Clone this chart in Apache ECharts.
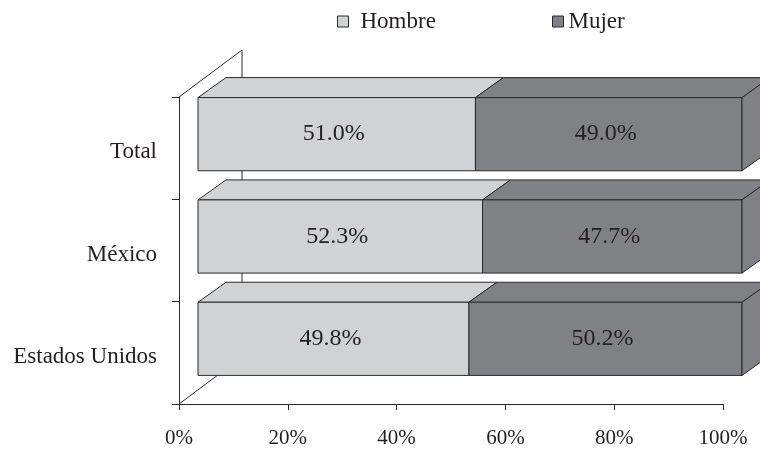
<!DOCTYPE html>
<html>
<head>
<meta charset="utf-8">
<script src="https://cdn.jsdelivr.net/npm/echarts@6/dist/echarts.min.js"></script>
<style>
  html, body { margin: 0; padding: 0; background: #ffffff; }
  #chart { width: 760px; height: 449px; }
</style>
</head>
<body>
<div id="chart"></div>
<script>
// Población por sexo (%)
const categories = ['Total', 'México', 'Estados Unidos'];
const hombre = [51.0, 52.3, 49.8];
const mujer = [49.0, 47.7, 50.2];
const xTicks = [0, 20, 40, 60, 80, 100];

const FONT = '"Liberation Serif", "DejaVu Serif", serif';
const TEXT = '#231f20';
const EDGE = '#2a2a2a';
const COLOR_H = '#d1d2d4';
const COLOR_M = '#808184';

// Oblique projection of the depth direction, in pixels
const WALL = [63, -47];  // full depth of the plot box
const NEAR = [19, -14];  // front face of the bars
const FAR = [47, -34];   // back face of the bars
const BAR_RATIO = 0.715;

// [start, end, categoryIndex, value]
const hombreData = categories.map((c, i) => [0, hombre[i], i, hombre[i]]);
const mujerData = categories.map((c, i) => [hombre[i], hombre[i] + mujer[i], i, mujer[i]]);

function makeBox(fill, withSide) {
  return function (params, api) {
    const cat = api.value(2);
    const p0 = api.coord([api.value(0), cat]);
    const p1 = api.coord([api.value(1), cat]);
    const h = api.size([0, 1])[1] * BAR_RATIO;
    const xl = p0[0] + NEAR[0];
    const xr = p1[0] + NEAR[0];
    const yt = p0[1] - h / 2 + NEAR[1];
    const yb = p0[1] + h / 2 + NEAR[1];
    const dx = FAR[0] - NEAR[0];
    const dy = FAR[1] - NEAR[1];
    const line = { fill: fill, stroke: EDGE, lineWidth: 1 };
    const children = [
      { type: 'polygon', shape: { points: [[xl, yt], [xr, yt], [xr + dx, yt + dy], [xl + dx, yt + dy]] }, style: line },
      { type: 'rect', shape: { x: xl, y: yt, width: xr - xl, height: yb - yt }, style: line }
    ];
    if (withSide) {
      children.push({ type: 'polygon', shape: { points: [[xr, yt], [xr + dx, yt + dy], [xr + dx, yb + dy], [xr, yb]] }, style: line });
    }
    children.push({
      type: 'text',
      style: {
        text: api.value(3).toFixed(1) + '%',
        x: (xl + xr) / 2 - 3, y: (yt + yb) / 2,
        align: 'center', verticalAlign: 'middle',
        font: '24px ' + FONT, fill: TEXT
      }
    });
    return { type: 'group', children: children };
  };
}

function renderWalls(params, api) {
  const n = categories.length;
  const band = api.size([0, 1])[1];
  const x0 = api.coord([0, 0])[0];
  const yTop = api.coord([0, 0])[1] - band / 2;
  const yBot = api.coord([0, n - 1])[1] + band / 2;
  const bx = x0 + WALL[0];
  const st = { stroke: EDGE, lineWidth: 1, fill: null };
  return {
    type: 'group',
    children: [
      { type: 'line', shape: { x1: x0, y1: yTop, x2: bx, y2: yTop + WALL[1] }, style: st },
      { type: 'line', shape: { x1: bx, y1: yTop + WALL[1], x2: bx, y2: yBot + WALL[1] }, style: st },
      { type: 'line', shape: { x1: x0, y1: yBot, x2: bx, y2: yBot + WALL[1] }, style: st }
    ]
  };
}

const chart = echarts.init(document.getElementById('chart'), null, { renderer: 'canvas' });

const legendBase = {
  top: 10,
  padding: 0,
  icon: 'rect',
  itemWidth: 11,
  itemHeight: 11,
  selectedMode: false
};

chart.setOption({
  animation: false,
  backgroundColor: '#ffffff',
  legend: [
    Object.assign({}, legendBase, {
      left: 337,
      data: [{ name: 'Hombre', itemStyle: { color: COLOR_H, borderColor: EDGE, borderWidth: 1 } }],
      textStyle: { fontFamily: FONT, fontSize: 23, color: TEXT, padding: [4, 0, 0, 7] }
    }),
    Object.assign({}, legendBase, {
      left: 552,
      data: [{ name: 'Mujer', itemStyle: { color: COLOR_M, borderColor: EDGE, borderWidth: 1 } }],
      textStyle: { fontFamily: FONT, fontSize: 23, color: TEXT, padding: [4, 0, 0, 0] }
    })
  ],
  grid: { left: 179, right: 37, top: 97, bottom: 45, containLabel: false },
  xAxis: {
    type: 'value',
    min: xTicks[0],
    max: xTicks[xTicks.length - 1],
    interval: xTicks[1] - xTicks[0],
    axisLine: { show: true, lineStyle: { color: EDGE, width: 1 } },
    axisTick: { show: true, length: 6, lineStyle: { color: EDGE } },
    splitLine: { show: false },
    axisLabel: { formatter: '{value}%', margin: 24, fontFamily: FONT, fontSize: 21, color: TEXT }
  },
  yAxis: {
    type: 'category',
    data: categories,
    inverse: true,
    axisLine: { show: true, lineStyle: { color: EDGE, width: 1 } },
    axisTick: { show: true, length: 7, lineStyle: { color: EDGE } },
    axisLabel: { margin: 22, fontFamily: FONT, fontSize: 23, color: TEXT, verticalAlign: 'top', lineHeight: 8 }
  },
  series: [
    { type: 'custom', name: 'walls', silent: true, z: 1, renderItem: renderWalls, data: [[0, 0]], encode: { x: 0, y: 1 } },
    {
      type: 'custom', name: 'Hombre', z: 2,
      itemStyle: { color: COLOR_H, borderColor: EDGE },
      renderItem: makeBox(COLOR_H, false),
      encode: { x: [0, 1], y: 2 },
      data: hombreData
    },
    {
      type: 'custom', name: 'Mujer', z: 3,
      itemStyle: { color: COLOR_M, borderColor: EDGE },
      renderItem: makeBox(COLOR_M, true),
      encode: { x: [0, 1], y: 2 },
      data: mujerData
    }
  ]
});
</script>
</body>
</html>
